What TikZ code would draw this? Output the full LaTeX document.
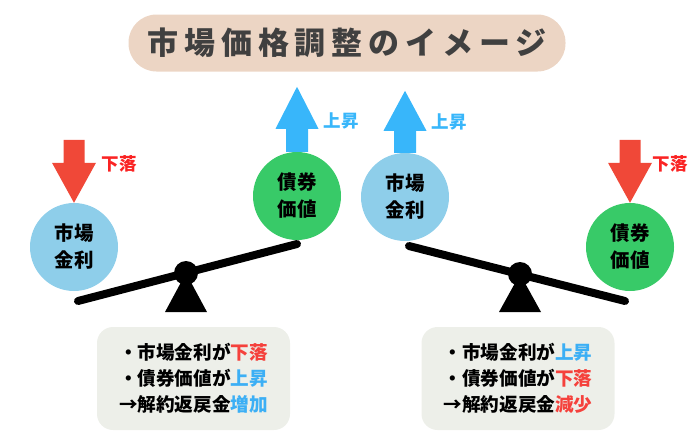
\documentclass[tikz,border=0pt]{standalone}
\usepackage{fontspec}
\setmainfont{Noto Sans CJK JP}
\usetikzlibrary{positioning, calc}
\definecolor{TitleBg}   {RGB}{236, 213, 196}
\definecolor{TitleText} {RGB}{ 64,  64,  64}
\definecolor{RateBlue}  {RGB}{142, 206, 234}
\definecolor{BondGreen} {RGB}{ 56, 202, 104}
\definecolor{UpBlue}    {RGB}{ 56, 182, 250}
\definecolor{DownRed}   {RGB}{240,  72,  56}
\definecolor{LabelRed}  {RGB}{250,  35,  35}
\definecolor{NoteRed}   {RGB}{245,  65,  60}
\definecolor{NoteBlue}  {RGB}{ 60, 175, 245}
\definecolor{NoteBg}    {RGB}{237, 239, 233}
\tikzset{
  % title pill
  titlebox/.style={
    rectangle, rounded corners=28pt,
    fill=TitleBg, text=TitleText,
    minimum width=437pt, minimum height=57pt, inner sep=0pt,
    font=\bfseries\fontsize{31}{36}\selectfont\addfontfeatures{LetterSpace=19}
  },
  % market rate ball
  ratecircle/.style={
    circle, fill=RateBlue, minimum size=88pt, inner sep=0pt,
    align=center, font=\bfseries\fontsize{19.5}{27}\selectfont
  },
  % bond value ball
  bondcircle/.style={
    ratecircle, fill=BondGreen
  },
  % small label next to the block arrows
  movelabel/.style={
    font=\bfseries\fontsize{17.5}{17.5}\selectfont, inner sep=0pt
  },
  % seesaw bar
  beam/.style={
    line width=8pt, line cap=round, color=black
  },
  % summary box
  notebox/.style={
    rectangle, rounded corners=16pt, fill=NoteBg,
    minimum width=193pt, minimum height=103pt,
    align=left, font=\bfseries\fontsize{18.6}{26}\selectfont
  }
}

\begin{document}
\begin{tikzpicture}[x=1pt, y=-1pt]
  \useasboundingbox (0,0) rectangle (700,432);

  % ── Title ────────────────────────────────────────────────
  \node[titlebox] (title) at (347,43) {市場価格調整のイメージ};

  % ── Seesaws (pivot + bar) ────────────────────────────────
  \coordinate (piv_l) at (186,273);
  \coordinate (bar_l1) at (78,301);
  \coordinate (bar_l2) at (297,244);
  \fill (piv_l) -- ($(piv_l)+(-21,39)$) -- ($(piv_l)+(21,39)$) -- cycle;
  \draw[beam] (bar_l1) -- (bar_l2);
  \fill (piv_l) circle (12);

  \coordinate (piv_r) at (520,274);
  \coordinate (bar_r1) at (409,246);
  \coordinate (bar_r2) at (625,301);
  \fill (piv_r) -- ($(piv_r)+(-21,38)$) -- ($(piv_r)+(21,38)$) -- cycle;
  \draw[beam] (bar_r1) -- (bar_r2);
  \fill (piv_r) circle (12);

  % ── Balls ────────────────────────────────────────────────
  \node[ratecircle] (rate_l) at (74,247)  {市場\\金利};
  \node[bondcircle] (bond_l) at (297,196) {債券\\価値};
  \node[ratecircle] (rate_r) at (405,197) {市場\\金利};
  \node[bondcircle] (bond_r) at (630,247) {債券\\価値};

  % ── Block arrows ─────────────────────────────────────────
  % down: rate (left)
  \fill[DownRed] (rate_l.north) -- ++(-22,-40) -- ++(11.5,0) -- ++(0,-23)
        -- ++(21,0) -- ++(0,23) -- ++(11.5,0) -- cycle;
  % up: bond (left)
  \fill[UpBlue] ($(bond_l.north)+(-11,0)$) -- ++(0,-23) -- ++(-10.5,0)
        -- ++(21.5,-42) -- ++(21.5,42) -- ++(-10.5,0) -- ++(0,23) -- cycle;
  % up: rate (right)
  \fill[UpBlue] ($(rate_r.north)+(-11,0)$) -- ++(0,-22) -- ++(-10.5,0)
        -- ++(21.5,-40) -- ++(21.5,40) -- ++(-10.5,0) -- ++(0,22) -- cycle;
  % down: bond (right)
  \fill[DownRed] (bond_r.north) -- ++(-22,-40) -- ++(11.5,0) -- ++(0,-23)
        -- ++(21,0) -- ++(0,23) -- ++(11.5,0) -- cycle;

  % ── Arrow labels ─────────────────────────────────────────
  \node[movelabel, text=LabelRed] (fall_l) at ($(rate_l.north)+(45,-39)$) {下落};
  \node[movelabel, text=UpBlue]   (rise_l) at ($(bond_l.north)+(44,-31)$) {上昇};
  \node[movelabel, text=UpBlue]   (rise_r) at ($(rate_r.north)+(44,-31)$) {上昇};
  \node[movelabel, text=LabelRed] (fall_r) at ($(bond_r.north)+(40,-39)$) {下落};

  % ── Summary boxes ────────────────────────────────────────
  \node[notebox] (note_l) at (193.5,378.5)
    {・市場金利が\textcolor{NoteRed}{下落}\\
     ・債券価値が\textcolor{NoteBlue}{上昇}\\
     →解約返戻金\textcolor{NoteBlue}{増加}};
  \node[notebox] (note_r) at (518,378.5)
    {・市場金利が\textcolor{NoteBlue}{上昇}\\
     ・債券価値が\textcolor{NoteRed}{下落}\\
     →解約返戻金\textcolor{NoteRed}{減少}};

\end{tikzpicture}
\end{document}
